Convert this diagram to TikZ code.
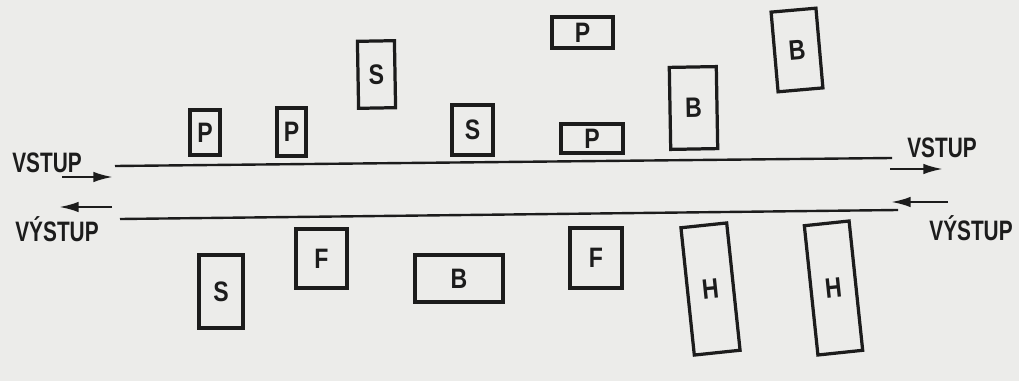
\documentclass[tikz,border=0pt]{standalone}
\usepackage{fontspec}
\setmainfont{Liberation Sans}
\usetikzlibrary{arrows.meta}
\definecolor{ink}{RGB}{28,28,28}
\definecolor{paper}{RGB}{236,236,234}
\begin{document}
\begin{tikzpicture}[x=0.025cm,y=-0.025cm,
  box/.style={draw=ink,line width=2.3pt,inner sep=0pt,text=ink,
    font=\fontsize{20}{20}\selectfont\bfseries},
  wh/.style 2 args={minimum width=#1*0.025cm,minimum height=#2*0.025cm},
  lbl/.style={inner sep=0pt,text=ink,font=\fontsize{20}{20}\selectfont\bfseries},
  bus/.style={draw=ink,line width=1.7pt},
  arr/.style={draw=ink,line width=1.7pt,-{Latex[length=14pt,width=7.5pt]}}]
\fill[paper] (0,0) rectangle (1019,381);
\useasboundingbox (0,0) rectangle (1019,381);
% boxes above the bus
\node[box,wh={30}{45}] (p1) at (205,132.5) {\scalebox{0.82}[1]{P}};
\node[box,wh={29}{48}] (p2) at (291.5,132) {\scalebox{0.82}[1]{P}};
\node[box,wh={37}{67},rotate=1] (s1) at (376.5,74.5) {\scalebox{0.82}[1]{S}};
\node[box,wh={41}{50}] (s2) at (472.5,130) {\scalebox{0.82}[1]{S}};
\node[box,wh={61}{31}] (p3) at (582.5,32.5) {\scalebox{0.82}[1]{P}};
\node[box,wh={62}{29}] (p4) at (592,138.5) {\scalebox{0.82}[1]{P}};
\node[box,wh={47}{82},rotate=1] (b1) at (693.5,108) {\scalebox{0.82}[1]{B}};
\node[box,wh={45}{80},rotate=5] (b2) at (797,50) {\scalebox{0.82}[1]{B}};
% boxes below the bus
\node[box,wh={44}{73}] (s3) at (221,291.5) {\scalebox{0.82}[1]{S}};
\node[box,wh={51}{59}] (f1) at (321.5,258.5) {\scalebox{0.82}[1]{F}};
\node[box,wh={88}{47}] (b3) at (459,278.5) {\scalebox{0.82}[1]{B}};
\node[box,wh={52}{60}] (f2) at (596,258) {\scalebox{0.82}[1]{F}};
\node[box,wh={46}{128},rotate=6] (h1) at (710.5,289) {\scalebox{0.82}[1]{H}};
\node[box,wh={45}{130},rotate=6] (h2) at (833.5,288) {\scalebox{0.82}[1]{H}};
% bus lines
\coordinate (t1) at (115,166);
\coordinate (t2) at (892,158);
\coordinate (u1) at (120,219);
\coordinate (u2) at (898,210);
\draw[bus] (t1) -- (t2);
\draw[bus] (u1) -- (u2);
% labels
\node[lbl] (vl) at (47,163) {\scalebox{0.74}[1]{VSTUP}};
\node[lbl] (yl) at (57,229) {\scalebox{0.74}[1]{VÝSTUP}};
\node[lbl] (vr) at (942,148) {\scalebox{0.74}[1]{VSTUP}};
\node[lbl] (yr) at (971,228) {\scalebox{0.74}[1]{VÝSTUP}};
% arrows
\coordinate (a1) at (62,177);
\coordinate (a2) at (113,177);
\coordinate (a3) at (112,207);
\coordinate (a4) at (59,207);
\coordinate (a5) at (890,169);
\coordinate (a6) at (943,169);
\coordinate (a7) at (948,202);
\coordinate (a8) at (891,202);
\draw[arr] (a1) -- (a2);
\draw[arr] (a3) -- (a4);
\draw[arr] (a5) -- (a6);
\draw[arr] (a7) -- (a8);
\end{tikzpicture}
\end{document}
